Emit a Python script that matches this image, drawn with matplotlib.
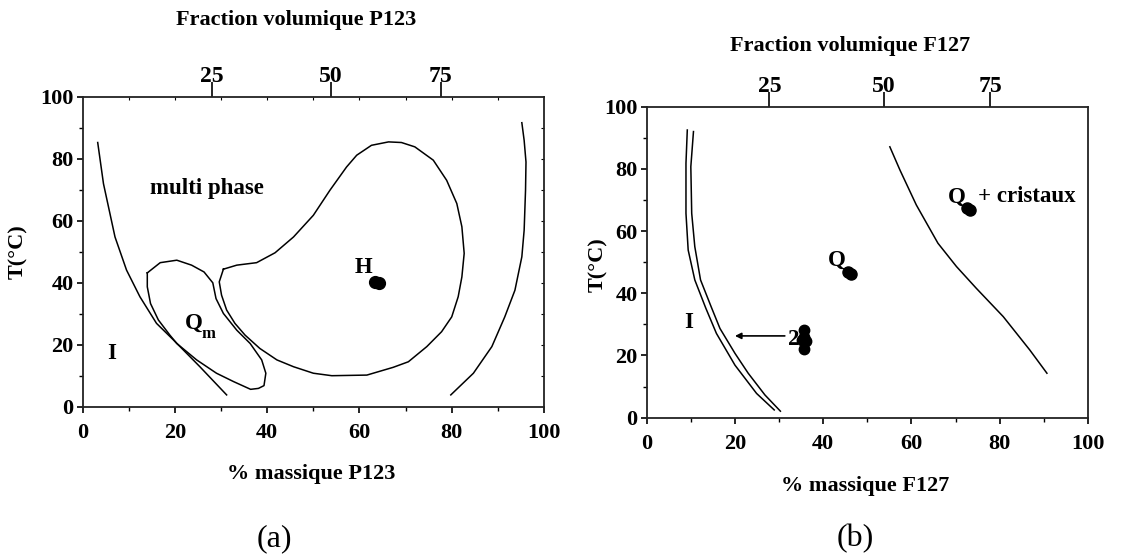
import matplotlib
matplotlib.use("Agg")
import matplotlib.pyplot as plt

plt.rcParams['font.family'] = ['Liberation Serif', 'DejaVu Serif']
plt.rcParams['font.weight'] = 'bold'

# ---------------- data: panel (a) P123 ----------------
a_I_x = [3.25, 4.5, 7.0, 9.5, 12.4, 16.0, 19.7, 25.4, 31.2]
a_I_y = [85.3, 72.0, 54.8, 44.1, 35.5, 26.9, 21.5, 12.9, 3.8]

a_Qm_x = [14.0, 16.8, 20.4, 23.6, 26.3, 28.2, 28.9, 30.5, 33.4, 36.3, 38.8, 39.7,
          39.3, 38.1, 36.4, 32.7, 29.0, 24.7, 20.4, 18.9, 16.4, 14.7, 14.0, 14.0]
a_Qm_y = [43.2, 46.5, 47.3, 45.7, 43.5, 40.0, 34.9, 30.1, 24.7, 20.4, 15.1, 10.8,
          6.8, 5.9, 5.6, 8.1, 10.8, 15.1, 20.4, 23.1, 28.0, 33.3, 38.7, 43.2]

a_H_x = [30.5, 33.4, 37.7, 41.7, 45.7, 50.0, 53.6, 57.2, 59.4, 62.6, 66.3, 69.1,
         72.0, 76.0, 78.9, 81.1, 82.2, 82.7, 82.2, 81.4, 80.0, 77.8, 74.6, 70.6,
         67.3, 61.6, 54.0, 50.0, 45.7, 42.1, 38.4, 35.2, 33.0, 31.2, 30.1, 29.6, 30.5]
a_H_y = [44.4, 45.7, 46.5, 49.7, 54.8, 61.8, 69.9, 77.4, 81.2, 84.4, 85.5, 85.3,
         83.9, 79.6, 73.1, 65.6, 58.1, 49.5, 41.9, 35.5, 29.0, 24.2, 19.4, 14.5,
         12.7, 10.2, 10.0, 10.8, 12.9, 15.1, 18.8, 23.1, 26.9, 31.2, 36.0, 40.3, 44.4]

a_R_x = [95.2, 95.7, 96.1, 96.0, 95.7, 95.2, 93.7, 91.5, 88.7, 84.7, 79.8]
a_R_y = [91.7, 86.0, 79.0, 69.9, 57.0, 48.4, 37.6, 29.0, 19.4, 10.8, 3.8]

a_dot_x = [63.4, 64.2]
a_dot_y = [40.2, 39.8]

# volume-fraction ticks (top axis) in mass % and labels
a_top_pos = [28.0, 53.8, 77.6]
b_top_pos = [27.8, 53.8, 77.8]
top_labels = ['25', '50', '75']

# ---------------- data: panel (b) F127 ----------------
b_L1_x = [9.2, 8.9, 8.9, 9.4, 10.9, 13.4, 15.8, 20.0, 24.9, 28.9]
b_L1_y = [92.5, 81.8, 65.7, 53.9, 44.3, 35.2, 27.1, 16.9, 7.8, 2.5]
b_L2_x = [10.6, 10.0, 10.2, 10.9, 12.2, 14.6, 16.6, 20.0, 23.0, 26.8, 30.3]
b_L2_y = [92.0, 80.7, 65.7, 55.0, 44.3, 35.7, 28.7, 20.7, 14.3, 7.3, 2.1]

b_R_x = [55.1, 57.4, 61.1, 66.0, 70.2, 74.7, 80.8, 86.8, 90.7]
b_R_y = [87.1, 79.6, 68.4, 56.1, 48.6, 41.6, 32.5, 21.8, 14.3]

b_Q_x = [45.6, 46.4]
b_Q_y = [46.7, 46.3]
b_QC_x = [72.5, 73.2]
b_QC_y = [67.3, 66.8]
b_2_x = [35.6, 35.6, 36.1, 35.6, 35.2]
b_2_y = [28.1, 25.8, 24.8, 22.0, 25.0]

xticks = [0, 20, 40, 60, 80, 100]
yticks = [0, 20, 40, 60, 80, 100]

fig = plt.figure(figsize=(11.3, 5.6), dpi=100)
axa = fig.add_axes([0.0732, 0.2738, 0.4082, 0.553])
axb = fig.add_axes([0.5723, 0.2541, 0.3905, 0.5554])

LW = 1.1
TS = 16


def style(ax, top_pos):
    ax.set_xlim(0, 100)
    ax.set_ylim(0, 100)
    for s in ax.spines.values():
        s.set_linewidth(1.3)
        s.set_color('#222222')
    ax.set_xticks(xticks)
    ax.set_yticks(yticks)
    ax.set_xticks(range(10, 100, 20), minor=True)
    ax.set_yticks(range(10, 100, 20), minor=True)
    ax.tick_params(axis='both', which='major', direction='out', length=4.5,
                   width=1.2, labelsize=TS)
    ax.tick_params(axis='both', which='minor', direction='out', length=3,
                   width=1.0)
    ax.tick_params(axis='x', which='major', pad=7)
    ax.tick_params(axis='y', which='major', pad=2)
    for lab in ax.get_xticklabels() + ax.get_yticklabels():
        lab.set_fontweight('bold')
    sec = ax.secondary_xaxis('top')
    sec.set_xticks(top_pos)
    sec.set_xticklabels(top_labels)
    sec.tick_params(axis='x', direction='out', length=11, width=1.2,
                    labelsize=17, pad=-4)
    for lab in sec.get_xticklabels():
        lab.set_fontweight('bold')
    sec.spines['top'].set_visible(False)
    return sec


style(axa, a_top_pos)
style(axb, b_top_pos)

# mirrored tiny inner ticks on panel (a)
ma = axa.secondary_xaxis('top')
ma.set_xticks(range(10, 100, 10))
ma.set_xticklabels([])
ma.tick_params(direction='in', length=2, width=0.8)
ma.spines['top'].set_visible(False)
mr = axa.secondary_yaxis('right')
mr.set_yticks(range(10, 100, 10))
mr.set_yticklabels([])
mr.tick_params(direction='in', length=2, width=0.8)
mr.spines['right'].set_visible(False)

# ---- panel (a) drawing ----
for xs, ys in [(a_I_x, a_I_y), (a_Qm_x, a_Qm_y), (a_H_x, a_H_y), (a_R_x, a_R_y)]:
    axa.plot(xs, ys, color='black', lw=LW, solid_joinstyle='round')
axa.plot(a_dot_x, a_dot_y, 'o', color='black', ms=8.5)

txt = dict(fontsize=16.5, fontweight='bold', color='black')
axa.text(14.5, 70.4, 'multi phase', ha='left', va='center', **txt)
axa.text(59.0, 45.0, 'H', ha='left', va='center', **txt)
axa.text(22.2, 26.9, 'Q', ha='left', va='center', **txt)
axa.text(25.8, 23.4, 'm', ha='left', va='center', fontsize=12, fontweight='bold')
axa.text(5.4, 17.2, 'I', ha='left', va='center', **txt)

# ---- panel (b) drawing ----
for xs, ys in [(b_L1_x, b_L1_y), (b_L2_x, b_L2_y), (b_R_x, b_R_y)]:
    axb.plot(xs, ys, color='black', lw=LW, solid_joinstyle='round')
axb.plot(b_Q_x, b_Q_y, 'o', color='black', ms=8)
axb.plot(b_QC_x, b_QC_y, 'o', color='black', ms=8)
axb.plot(b_2_x, b_2_y, 'o', color='black', ms=7.5)
axb.annotate('', xy=(20.0, 26.3), xytext=(31.3, 26.3),
             arrowprops=dict(arrowstyle='-|>', lw=1.2, color='black',
                             mutation_scale=9, shrinkA=0, shrinkB=0))
axb.text(32.0, 25.2, '2', ha='left', va='center', **txt)
axb.text(41.0, 50.7, 'Q', ha='left', va='center', **txt)
axb.text(68.2, 71.0, 'Q', ha='left', va='center', **txt)
axb.text(75.0, 71.0, '+ cristaux', ha='left', va='center', **txt)
axb.text(8.4, 30.5, 'I', ha='left', va='center', **txt)

# ---- labels ----
LS = 16
fig.text(0.262, 0.964, 'Fraction volumique P123', ha='center', va='center',
         fontsize=LS, fontweight='bold')
fig.text(0.752, 0.918, 'Fraction volumique F127', ha='center', va='center',
         fontsize=LS, fontweight='bold')
fig.text(0.275, 0.154, '% massique P123', ha='center', va='center',
         fontsize=LS, fontweight='bold')
fig.text(0.766, 0.132, '% massique F127', ha='center', va='center',
         fontsize=LS, fontweight='bold')
fig.text(0.016, 0.55, 'T(°C)', rotation=90, ha='center', va='center',
         fontsize=LS, fontweight='bold')
fig.text(0.529, 0.527, 'T(°C)', rotation=90, ha='center', va='center',
         fontsize=LS, fontweight='bold')
fig.text(0.243, 0.038, '(a)', ha='center', va='center', fontsize=23,
         fontweight='normal')
fig.text(0.757, 0.038, '(b)', ha='center', va='center', fontsize=23,
         fontweight='normal')

fig.savefig('out.png', dpi=100)
